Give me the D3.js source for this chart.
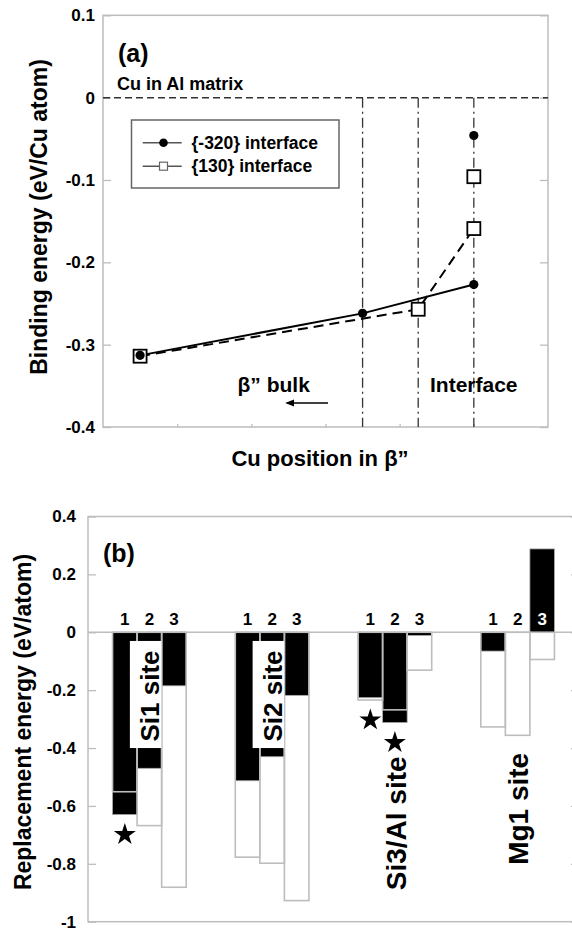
<!DOCTYPE html>
<html>
<head>
<meta charset="utf-8">
<script src="https://cdn.jsdelivr.net/npm/d3@7"></script>
<style>
  body { margin: 0; background: #fff; }
  svg text { font-family: "Liberation Sans", Arial, sans-serif; font-weight: bold; fill: #000; }
</style>
</head>
<body>
<svg id="chart" width="572" height="932"></svg>
<script>
// ---- panel (a): binding energy vs Cu position ----
const posLine320 = [0.5, 3.5, 5];
const energyLine320 = [-0.313, -0.262, -0.227];
const posLine130 = [0.5, 4.25, 5];
const energyLine130 = [-0.314, -0.257, -0.159];
const posExtra320 = [5];
const energyExtra320 = [-0.046];
const posExtra130 = [5];
const energyExtra130 = [-0.096];
const boundaryPos = [3.5, 4.25, 5];
const ticksA = [0.1, 0, -0.1, -0.2, -0.3, -0.4];
const xTicksA = [1, 2, 3, 4, 5];
const legendNames = ["{-320} interface", "{130} interface"];

// ---- panel (b): replacement energy per site ----
const sites = ["Si1", "Si2", "Si3/Al", "Mg1"];
const siteLabels = ["Si1 site", "Si2 site", "Si3/Al site", "Mg1 site"];
const positions = ["1", "2", "3"];
const filledValues = [
  [-0.63, -0.47, -0.185],
  [-0.513, -0.43, -0.218],
  [-0.226, -0.312, -0.011],
  [-0.065, 0, 0.288],
];
const openValues = [
  [-0.551, -0.668, -0.881],
  [-0.777, -0.798, -0.927],
  [-0.234, -0.268, -0.131],
  [-0.327, -0.356, -0.094],
];
const starred = [[0, 0], [2, 0], [2, 1]]; // [site, position]
const ticksB = [0.4, 0.2, 0, -0.2, -0.4, -0.6, -0.8, -1];

const svg = d3.select("#chart");
const frameColor = "#bdbdbd";

svg.append("defs").append("marker")
  .attr("id", "arrow")
  .attr("viewBox", "0 0 10 10")
  .attr("refX", 8).attr("refY", 5)
  .attr("markerWidth", 6).attr("markerHeight", 6)
  .attr("orient", "auto")
  .append("path")
  .attr("d", "M0,1 L10,5 L0,9 Z")
  .attr("fill", "#000");

function styleAxis(g, size) {
  g.select(".domain").remove();
  g.selectAll(".tick line").attr("stroke", frameColor).attr("stroke-width", 1.3);
  g.selectAll(".tick text").attr("font-size", size);
}

// ================= panel (a) =================
const xA = d3.scaleLinear().domain([0, 6]).range([103, 548]);
const yA = d3.scaleLinear().domain([-0.4, 0.1]).range([427, 15.3]);
const gA = svg.append("g");

gA.append("rect")
  .attr("x", xA(0)).attr("y", yA(0.1))
  .attr("width", xA(6) - xA(0)).attr("height", yA(-0.4) - yA(0.1))
  .attr("fill", "none").attr("stroke", frameColor).attr("stroke-width", 1.5);

gA.append("g").attr("transform", `translate(${xA(0)},0)`)
  .call(d3.axisLeft(yA).tickValues(ticksA).tickSizeInner(-8).tickSizeOuter(0)
    .tickPadding(8).tickFormat((d) => String(d)))
  .call((g) => styleAxis(g, 17));
gA.append("g").attr("transform", `translate(${xA(6)},0)`)
  .call(d3.axisRight(yA).tickValues(ticksA).tickSizeInner(-8).tickSizeOuter(0).tickFormat(""))
  .call((g) => styleAxis(g, 17));
gA.append("g").attr("transform", `translate(0,${yA(-0.4)})`)
  .call(d3.axisBottom(xA).tickValues(xTicksA).tickSizeInner(-3).tickSizeOuter(0).tickFormat(""))
  .call((g) => styleAxis(g, 17));

// reference line for Cu in Al matrix
gA.append("line")
  .attr("x1", xA(0)).attr("x2", xA(6)).attr("y1", yA(0)).attr("y2", yA(0))
  .attr("stroke", "#333").attr("stroke-width", 1.5).attr("stroke-dasharray", "7,4");

gA.selectAll(".boundary").data(boundaryPos).enter().append("line")
  .attr("class", "boundary")
  .attr("x1", (d) => xA(d)).attr("x2", (d) => xA(d))
  .attr("y1", yA(0)).attr("y2", yA(-0.4))
  .attr("stroke", "#333").attr("stroke-width", 1.3).attr("stroke-dasharray", "10,4,2,4");

const line = d3.line().x((d) => xA(d[0])).y((d) => yA(d[1]));
gA.append("path").datum(d3.zip(posLine320, energyLine320))
  .attr("d", line).attr("fill", "none").attr("stroke", "#000").attr("stroke-width", 2);
gA.append("path").datum(d3.zip(posLine130, energyLine130))
  .attr("d", line).attr("fill", "none").attr("stroke", "#000").attr("stroke-width", 2)
  .attr("stroke-dasharray", "10,6");

const squares = d3.zip(posLine130, energyLine130).concat(d3.zip(posExtra130, energyExtra130));
gA.selectAll(".sq").data(squares).enter().append("rect")
  .attr("class", "sq")
  .attr("x", (d) => xA(d[0]) - 6.5).attr("y", (d) => yA(d[1]) - 6.5)
  .attr("width", 13).attr("height", 13)
  .attr("fill", "#fff").attr("stroke", "#000").attr("stroke-width", 1.8);

const dots = d3.zip(posLine320, energyLine320).concat(d3.zip(posExtra320, energyExtra320));
gA.selectAll(".dot").data(dots).enter().append("circle")
  .attr("class", "dot")
  .attr("cx", (d) => xA(d[0])).attr("cy", (d) => yA(d[1])).attr("r", 4.6)
  .attr("fill", "#000");

// legend
const legend = gA.append("g");
legend.append("rect")
  .attr("x", 131.5).attr("y", 120).attr("width", 207.5).attr("height", 68)
  .attr("fill", "#fff").attr("stroke", "#666").attr("stroke-width", 1.5);
legendNames.forEach((name, i) => {
  const ly = 142.7 + i * 23.5;
  legend.append("line").attr("x1", 142.7).attr("x2", 181.7).attr("y1", ly).attr("y2", ly)
    .attr("stroke", "#555").attr("stroke-width", 1.5);
  if (i === 0) {
    legend.append("circle").attr("cx", 163.5).attr("cy", ly).attr("r", 4.3).attr("fill", "#000");
  } else {
    legend.append("rect").attr("x", 159.5).attr("y", ly - 4).attr("width", 8).attr("height", 8)
      .attr("fill", "#fff").attr("stroke", "#666").attr("stroke-width", 1.2);
  }
  legend.append("text").attr("x", 191.5).attr("y", ly).attr("dy", "0.35em")
    .attr("font-size", 17.5).text(name);
});

gA.append("text").attr("x", 118).attr("y", 62).attr("font-size", 25).text("(a)");
gA.append("text").attr("x", 117).attr("y", 89.5).attr("font-size", 18).text("Cu in Al matrix");
gA.append("text").attr("x", 237.5).attr("y", 391.5).attr("font-size", 21).text("β” bulk");
gA.append("text").attr("x", 430).attr("y", 391.5).attr("font-size", 21).text("Interface");
gA.append("line")
  .attr("x1", 328).attr("x2", 287).attr("y1", 403).attr("y2", 403)
  .attr("stroke", "#000").attr("stroke-width", 1.5).attr("marker-end", "url(#arrow)");

gA.append("text").attr("x", 320).attr("y", 466).attr("text-anchor", "middle")
  .attr("font-size", 22).text("Cu position in β”");
gA.append("text")
  .attr("transform", `translate(47,217) rotate(-90)`)
  .attr("text-anchor", "middle").attr("font-size", 23)
  .text("Binding energy (eV/Cu atom)");

// ================= panel (b) =================
const xB = d3.scaleBand().domain(sites).range([88, 579]);
const xSub = d3.scaleBand().domain(positions)
  .range([xB.bandwidth() * 0.2, xB.bandwidth() * 0.8]);
const yB = d3.scaleLinear().domain([-1, 0.4]).range([921.7, 516.5]);
const gB = svg.append("g");

gB.append("rect")
  .attr("x", 88).attr("y", yB(0.4))
  .attr("width", 579 - 88).attr("height", yB(-1) - yB(0.4))
  .attr("fill", "none").attr("stroke", frameColor).attr("stroke-width", 1.5);

gB.append("g").attr("transform", "translate(88,0)")
  .call(d3.axisLeft(yB).tickValues(ticksB).tickSizeInner(-8).tickSizeOuter(0)
    .tickPadding(12).tickFormat((d) => String(d)))
  .call((g) => styleAxis(g, 17));
gB.append("g").attr("transform", "translate(579,0)")
  .call(d3.axisRight(yB).tickValues(ticksB).tickSizeInner(-8).tickSizeOuter(0).tickFormat(""))
  .call((g) => styleAxis(g, 17));

gB.append("line")
  .attr("x1", 88).attr("x2", 579).attr("y1", yB(0)).attr("y2", yB(0))
  .attr("stroke", frameColor).attr("stroke-width", 1.5);

const cells = [];
sites.forEach((s, i) => positions.forEach((p, j) => {
  cells.push({ site: s, pos: p, i, j, filled: filledValues[i][j], open: openValues[i][j] });
}));
const barX = (d) => xB(d.site) + xSub(d.pos);
const barW = xSub.bandwidth();

gB.selectAll(".filled").data(cells).enter().append("rect")
  .attr("class", "filled")
  .attr("x", barX).attr("width", barW)
  .attr("y", (d) => yB(Math.max(d.filled, 0)))
  .attr("height", (d) => Math.abs(yB(d.filled) - yB(0)))
  .attr("fill", "#000").attr("stroke", "#aaa").attr("stroke-width", 0.8);

gB.selectAll(".open").data(cells).enter().append("rect")
  .attr("class", "open")
  .attr("x", barX).attr("width", barW)
  .attr("y", (d) => yB(Math.max(d.open, 0)))
  .attr("height", (d) => Math.abs(yB(d.open) - yB(0)))
  .attr("fill", "none").attr("stroke", "#bdbdbd").attr("stroke-width", 1.6);

gB.selectAll(".num").data(cells).enter().append("text")
  .attr("class", "num")
  .attr("x", (d) => barX(d) + barW / 2).attr("y", yB(0) - 7)
  .attr("text-anchor", "middle").attr("font-size", 17)
  .style("fill", (d) => (d.filled > 0.05 ? "#fff" : "#000"))
  .text((d) => d.pos);

starred.forEach(([i, j]) => {
  const d = cells[i * 3 + j];
  const low = Math.min(d.filled, d.open);
  gB.append("path")
    .attr("d", d3.symbol(d3.symbolStar, 150)())
    .attr("transform", `translate(${barX(d) + barW / 2},${yB(low) + 20})`)
    .attr("fill", "#000");
});

// site labels: Si1 / Si2 sit in white boxes over the bars
const labelCenter = [-0.22, -0.22, -0.66, -0.61];
const labelSize = [26, 26, 28, 28];
sites.forEach((s, i) => {
  const cx = xB(s) + xB.bandwidth() / 2;
  if (i < 2) {
    gB.append("rect")
      .attr("x", cx - 19.5).attr("y", yB(-0.03))
      .attr("width", 31.5).attr("height", yB(-0.4) - yB(-0.03))
      .attr("fill", "#fff");
  }
  gB.append("text")
    .attr("transform", `translate(${cx + 1},${yB(labelCenter[i])}) rotate(-90)`)
    .attr("text-anchor", "middle").attr("dy", "0.35em")
    .attr("font-size", labelSize[i])
    .text(siteLabels[i]);
});

gB.append("text").attr("x", 103).attr("y", 562).attr("font-size", 25).text("(b)");
gB.append("text")
  .attr("transform", `translate(31,722) rotate(-90)`)
  .attr("text-anchor", "middle").attr("font-size", 23)
  .text("Replacement energy (eV/atom)");
</script>
</body>
</html>
